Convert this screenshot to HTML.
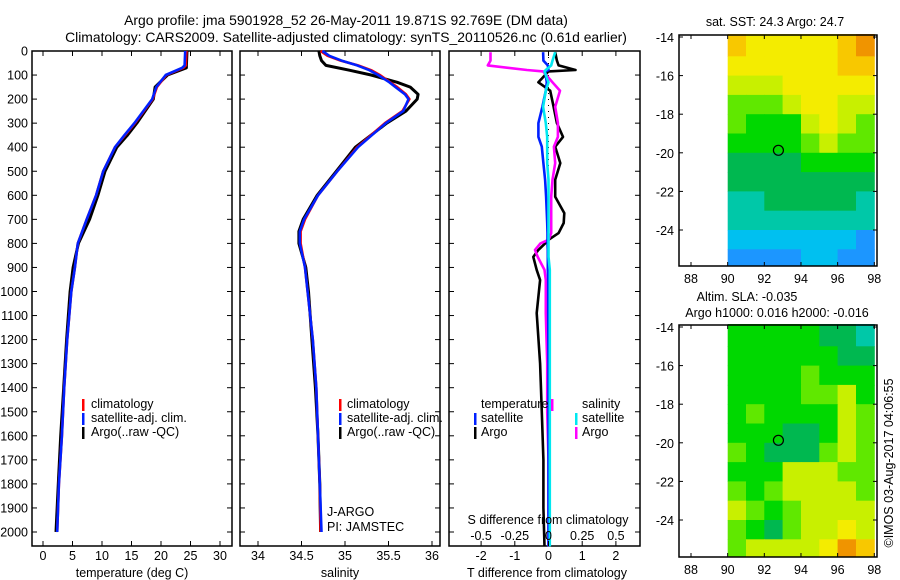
<!DOCTYPE html>
<html><head><meta charset="utf-8"><style>
body{margin:0;background:#fff;}
svg{display:block;font-family:"Liberation Sans",sans-serif;}
text{font-size:12.5px;fill:#000;}
</style></head><body>
<svg id="c" width="900" height="580" xmlns="http://www.w3.org/2000/svg">
<text x="346" y="25" text-anchor="middle" style="font-size:13.9px">Argo profile: jma 5901928_52 26-May-2011 19.871S 92.769E (DM data)</text>
<text x="346" y="42" text-anchor="middle" style="font-size:13.9px">Climatology: CARS2009. Satellite-adjusted climatology: synTS_20110526.nc (0.61d earlier)</text>
</svg>
<script>
// ---- data ----
const depths=[0,60,70,100,150,200,300,350,400,500,600,700,800,900,1000,1200,1400,1600,1800,2000];
const tempClim=[24.3,24.2,23.8,20.9,19.3,18.6,15.6,13.9,12.2,10.2,9.0,7.4,5.9,5.4,4.8,4.1,3.6,3.2,2.7,2.4];
const tempSat=[24.1,24.0,23.6,20.8,19.2,18.5,15.5,13.8,12.2,10.2,9.0,7.4,5.9,5.4,4.8,4.1,3.6,3.2,2.7,2.4];
const tempArgo=[24.4,24.3,24.3,21.1,19.0,18.7,15.9,14.3,12.5,10.5,9.3,7.9,6.0,5.1,4.6,4.0,3.5,3.0,2.6,2.2];
const salDepths=[0,20,40,60,80,100,130,150,180,200,250,300,400,500,600,700,750,800,900,1000,1200,1400,1600,1800,2000];
const salClim=[34.72,34.8,34.95,35.15,35.3,35.4,35.52,35.6,35.7,35.74,35.66,35.46,35.14,34.91,34.69,34.54,34.49,34.49,34.54,34.57,34.63,34.67,34.69,34.71,34.72];
const salSat=[34.74,34.82,34.96,35.14,35.28,35.38,35.51,35.58,35.69,35.73,35.67,35.47,35.15,34.91,34.69,34.53,34.48,34.48,34.54,34.57,34.63,34.67,34.69,34.71,34.73];
const salArgo=[34.70,34.71,34.73,34.78,35.05,35.3,35.6,35.75,35.84,35.83,35.7,35.48,35.12,34.9,34.68,34.52,34.47,34.47,34.55,34.58,34.62,34.66,34.69,34.71,34.72];
const diffDepths=[5,40,60,79,85,130,165,232,300,357,398,466,535,606,674,715,757,785,800,827,856,910,952,1090,1300,1500,1700,1900,2060];
const tDiffArgo=[0.2,0.25,0.3,0.8,0.0,-0.3,0.05,0.15,0.25,0.43,0.2,0.35,0.2,0.2,0.47,0.45,0.3,0.0,-0.1,-0.3,-0.45,-0.35,-0.25,-0.35,-0.25,-0.2,-0.15,-0.15,-0.12];
const sDiffArgo=[-0.43,-0.43,-0.45,-0.16,-0.04,0.03,0.085,0.05,0.07,0.07,0.04,0.05,0.03,0.02,0.02,0.02,0.02,0.0,-0.06,-0.1,-0.08,-0.03,-0.02,-0.02,-0.01,-0.01,0.0,0.0,0.0];
const tDiffSat=[-0.16,-0.15,-0.02,0.0,-0.1,-0.05,-0.08,-0.18,-0.3,-0.3,-0.2,-0.15,-0.1,-0.07,-0.05,-0.04,-0.03,-0.03,-0.03,-0.02,-0.02,-0.02,-0.01,-0.01,0,0,0,0,0];
const sDiffSat=[0.05,0.03,0.02,-0.02,-0.03,0.0,-0.02,-0.04,-0.02,-0.01,-0.01,-0.01,0.0,0.0,0.0,0.0,0.0,0.0,0.0,0.0,0.0,0.01,0.01,0.01,0.01,0.01,0.01,0.01,0.01];
const tempTicks=[0,5,10,15,20,25,30];
const salTicks=[34,34.5,35,35.5,36];
const tDiffTicks=[-2,-1,0,1,2];
const sDiffTicks=[-0.5,-0.25,0,0.25,0.5];
const depthTicks=[0,100,200,300,400,500,600,700,800,900,1000,1100,1200,1300,1400,1500,1600,1700,1800,1900,2000];
const lonTicks=[88,90,92,94,96,98];
const latTicks=[-14,-16,-18,-20,-22,-24];
const palette=["#1c96ff","#00c0f0","#00c8a8","#00b850","#00d800","#60e800","#c8f000","#f4ec00","#f8c800","#f09400"];
const sstGrid=[
[8,7,7,7,7,7,8,9],[7,7,7,7,7,7,8,8],[6,6,6,7,7,7,7,7],[5,5,5,6,7,7,6,6],
[5,4,4,4,6,7,6,5],[4,4,4,4,5,6,5,5],[3,3,3,3,4,4,4,4],[3,3,3,3,3,3,3,3],
[2,2,3,3,3,3,3,2],[2,2,2,2,2,2,2,2],[1,1,1,1,1,1,1,0],[0,0,0,0,1,1,0,0]];
const slaGrid=[
[4,4,4,4,4,3,3,2],[4,4,4,4,4,4,3,3],[4,4,4,4,5,4,4,4],[4,4,4,4,5,5,6,4],
[4,5,4,4,4,4,6,5],[4,4,4,3,3,4,6,5],[5,4,3,3,3,5,6,5],[4,4,4,6,6,6,5,5],
[5,4,5,6,6,6,6,5],[6,5,4,5,6,6,6,6],[5,4,3,5,6,6,7,6],[5,6,6,6,6,7,9,8]];
const argoLon=92.769, argoLat=-19.871;

// ---- helpers ----
const S=document.getElementById('c'),NS="http://www.w3.org/2000/svg";
function mk(t,a,txt){const e=document.createElementNS(NS,t);for(const k in a)e.setAttribute(k,a[k]);if(txt!==undefined)e.textContent=txt;S.appendChild(e);return e;}
const TOP=51,BOT=546;
const yD=d=>TOP+d*0.2405;
const xT=v=>43+v*5.9;
const xS=v=>258+(v-34)*87;
const xTD=v=>548.5+v*33.7;
const xSD=v=>548.5+v*134.8;
function frame(x0,x1,name){
  const r=mk('rect',{x:x0,y:TOP,width:x1-x0,height:BOT-TOP,fill:'none',stroke:'#000','stroke-width':1.5});
  
  depthTicks.forEach(d=>{mk('line',{x1:x0,x2:x0+5,y1:yD(d),y2:yD(d),stroke:'#000'});mk('line',{x1:x1-5,x2:x1,y1:yD(d),y2:yD(d),stroke:'#000'});});
}
function line(xs,ds,fx,col,name,w){
  const pts=xs.map((v,i)=>fx(v).toFixed(1)+','+yD(ds[i]).toFixed(1)).join(' ');
  const p=mk('polyline',{points:pts,fill:'none',stroke:col,'stroke-width':w||2.6,'stroke-linejoin':'round'});
  
}
function xticks(ticks,fx,x0,y,name,yl){
  ticks.forEach(t=>{const x=fx(t);
    if(yl===undefined){mk('line',{x1:x,x2:x,y1:TOP,y2:TOP+5,stroke:'#000'});mk('line',{x1:x,x2:x,y1:BOT-5,y2:BOT,stroke:'#000'});}
    const e=mk('text',{x:x,y:y,'text-anchor':'middle'},String(t));
    });
}
function txt(x,y,s,name,anchor){const e=mk('text',{x:x,y:y,'text-anchor':anchor||'start'},s);return e;}
function legMark(x,y,col){mk('rect',{x:x,y:y-10,width:2.5,height:12,fill:col});}

// ---- depth axis labels ----
depthTicks.forEach(d=>{const e=txt(28,yD(d)+4.5,String(d),'depth-tick-label','end');});

// ---- panel 1 temperature ----
frame(32,232,'temperature-panel');
xticks(tempTicks,xT,0,560,'temperature-tick-label');
line(tempArgo,depths,xT,'#000','argo-temperature-line',3);
line(tempClim,depths,xT,'#f00','climatology-temperature-line');
line(tempSat,depths,xT,'#0020ff','satellite-temperature-line');
txt(132,577,'temperature (deg C)','temperature-axis-title','middle');
legMark(82,409,'#f00');txt(91,408,'climatology','legend-climatology');
legMark(82,423,'#0020ff');txt(91,422,'satellite-adj. clim.','legend-satellite');
legMark(82,437,'#000');txt(91,436,'Argo(..raw -QC)','legend-argo');

// ---- panel 2 salinity ----
frame(240,440,'salinity-panel');
xticks(salTicks,xS,0,560,'salinity-tick-label');
line(salArgo,salDepths,xS,'#000','argo-salinity-line',3);
line(salClim,salDepths,xS,'#f00','climatology-salinity-line');
line(salSat,salDepths,xS,'#0020ff','satellite-salinity-line');
txt(340,577,'salinity','salinity-axis-title','middle');
legMark(339,409,'#f00');txt(347,408,'climatology','legend-climatology-2');
legMark(339,423,'#0020ff');txt(347,422,'satellite-adj. clim.','legend-satellite-2');
legMark(339,437,'#000');txt(347,436,'Argo(..raw -QC)','legend-argo-2');
txt(327,516,'J-ARGO','institution-label');
txt(327,531,'PI: JAMSTEC','pi-label');

// ---- panel 3 differences ----
frame(449,640,'difference-panel');
mk('line',{x1:548.5,x2:548.5,y1:TOP,y2:BOT,stroke:'#000','stroke-dasharray':'1,5'});
line(tDiffArgo,diffDepths,xTD,'#000','argo-temperature-diff-line',2.6);
line(sDiffArgo,diffDepths,xSD,'#ff00ff','argo-salinity-diff-line',2.6);
line(tDiffSat,diffDepths,xTD,'#0020ff','satellite-temperature-diff-line',2.6);
line(sDiffSat,diffDepths,xSD,'#00e8f0','satellite-salinity-diff-line',2.6);
xticks(tDiffTicks,xTD,0,560,'t-diff-tick-label');
xticks(sDiffTicks,xSD,0,540,'s-diff-tick-label',1);
txt(548,524,'S difference from climatology','s-diff-axis-title','middle');
txt(547,577,'T difference from climatology','t-diff-axis-title','middle');
txt(481,408,'temperature','legend-temperature-heading');
legMark(474,423,'#0020ff');txt(481,422,'satellite','legend-temp-satellite');
legMark(474,437,'#000');txt(481,436,'Argo','legend-temp-argo');
legMark(551,409,'#ff00ff');txt(582,408,'salinity','legend-salinity-heading');
legMark(575,423,'#00e8f0');txt(582,422,'satellite','legend-sal-satellite');
legMark(575,437,'#ff00ff');txt(582,436,'Argo','legend-sal-argo');

// ---- maps ----
function drawMap(grid,y0,y1,name){
  const x0=679,x1=877;
  const xL=lon=>691+(lon-88)*18.33;
  const yL=lat=>y0+2+(-14-lat)*19.3;
  grid.forEach((row,r)=>row.forEach((v,c)=>{
    const xa=xL(90+c),xb=xL(91+c),ya=yL(-14-r*1.0)-(r===0?3:0),yb=Math.min(yL(-15-r*1.0),y1);
    const cell=mk('rect',{x:xa.toFixed(1),y:ya.toFixed(1),width:(xb-xa+0.5).toFixed(1),height:(yb-ya+0.5).toFixed(1),fill:palette[v]});
    
    
  }));
  const fr=mk('rect',{x:x0,y:y0,width:x1-x0,height:y1-y0,fill:'none',stroke:'#000','stroke-width':1.5});
  
  lonTicks.forEach(l=>{const x=xL(l);mk('line',{x1:x,x2:x,y1:y0,y2:y0+4,stroke:'#000'});mk('line',{x1:x,x2:x,y1:y1-4,y2:y1,stroke:'#000'});
    txt(x,y1+17,String(l),'longitude-tick-label','middle');});
  latTicks.forEach(l=>{const y=yL(l);mk('line',{x1:x0,x2:x0+4,y1:y,y2:y,stroke:'#000'});mk('line',{x1:x1-4,x2:x1,y1:y,y2:y,stroke:'#000'});
    txt(674,y+5,String(l),'latitude-tick-label','end');});
  const m=mk('circle',{cx:xL(argoLon),cy:yL(argoLat),r:5,fill:'none',stroke:'#000','stroke-width':1.2});
  
}
drawMap(sstGrid,35,266,'sst-map');
drawMap(slaGrid,325,557,'sla-map');
txt(775,26,'sat. SST: 24.3 Argo: 24.7','sst-map-title','middle');
txt(747,301,'Altim. SLA: -0.035','sla-map-title','middle');
txt(777,317,'Argo h1000: 0.016 h2000: -0.016','sla-map-subtitle','middle');
const cr=txt(0,0,'©IMOS 03-Aug-2017 04:06:55','copyright-timestamp','middle');
cr.setAttribute('transform','translate(893,463) rotate(-90)');
</script>
</body></html>
